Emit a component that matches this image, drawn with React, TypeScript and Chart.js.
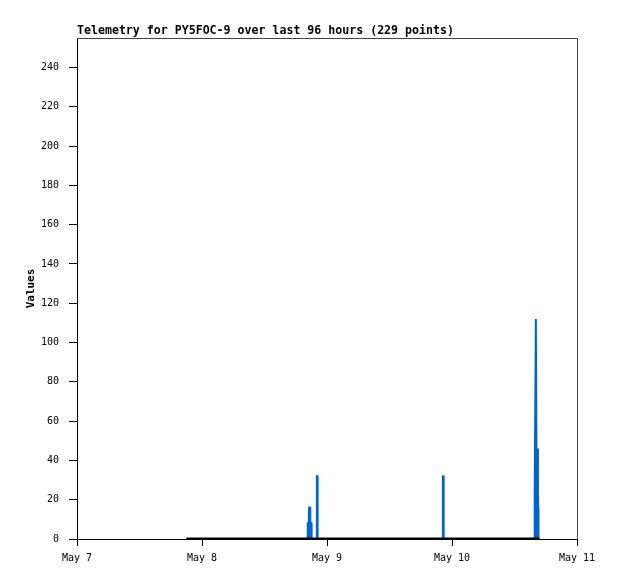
import React, { useEffect, useRef } from "react";
import { Chart, registerables } from "chart.js";

Chart.register(...registerables);

const chartTitle = "Telemetry for PY5FOC-9 over last 96 hours (229 points)";
const yAxisTitle = "Values";
const xTickLabels = ["May 7", "May 8", "May 9", "May 10", "May 11"];
const yMin = 0;
const yMax = 255;

// hours since May 7 00:00
const blueHours = [
  21.0,
  44.25, 44.3, 44.5, 44.55, 44.75, 44.8, 45.0, 45.05,
  46.0, 46.05, 46.15, 46.2,
  70.2, 70.25, 70.35, 70.4,
  87.8, 87.85, 87.9, 88.1, 88.25, 88.4, 88.5, 88.55, 88.6,
  88.8,
];
const blueValues = [
  0,
  0, 8, 8, 16, 16, 8, 8, 0,
  0, 32, 32, 0,
  0, 32, 32, 0,
  0, 16, 24, 112, 24, 46, 24, 16, 0,
  0,
];
const blackHours = [21.0, 88.8];
const blackValues = [0, 0];

const FONT = '"DejaVu Sans Mono", "Liberation Mono", monospace';

const framePlugin = {
  id: "frameAndTitle",
  afterDraw(chart: any) {
    const { ctx, chartArea } = chart;
    ctx.save();
    ctx.strokeStyle = "#444444";
    ctx.lineWidth = 1;
    ctx.beginPath();
    ctx.moveTo(chartArea.left, Math.round(chartArea.top) + 0.5);
    ctx.lineTo(Math.round(chartArea.right) + 0.5, Math.round(chartArea.top) + 0.5);
    ctx.lineTo(Math.round(chartArea.right) + 0.5, chartArea.bottom);
    ctx.stroke();
    ctx.font = "bold 11.6px " + FONT;
    ctx.fillStyle = "#000";
    ctx.textAlign = "left";
    ctx.textBaseline = "middle";
    ctx.fillText(chartTitle, chartArea.left, chartArea.top - 7);
    ctx.restore();
  },
};

export default function App() {
  const ref = useRef<HTMLCanvasElement | null>(null);

  useEffect(() => {
    if (!ref.current) return;
    const chart = new Chart(ref.current, {
      type: "line",
      data: {
        datasets: [
          {
            label: "zero",
            data: blackHours.map((h, i) => ({ x: h, y: blackValues[i] })),
            borderColor: "#000000",
            borderWidth: 3,
            pointRadius: 0,
            tension: 0,
            order: 0,
          },
          {
            label: "values",
            data: blueHours.map((h, i) => ({ x: h, y: blueValues[i] })),
            borderColor: "#0066cc",
            backgroundColor: "#0066cc",
            fill: "origin",
            borderWidth: 2,
            pointRadius: 0,
            tension: 0,
            order: 1,
          },
        ],
      },
      options: {
        animation: false,
        responsive: false,
        maintainAspectRatio: false,
        layout: { padding: { top: 38, left: 0, right: 41, bottom: 0 } },
        plugins: {
          legend: { display: false },
          tooltip: { enabled: false },
          title: { display: false },
        },
        scales: {
          x: {
            type: "linear",
            min: 0,
            max: 96,
            afterFit: (scale: any) => {
              scale.height = 40;
            },
            ticks: {
              stepSize: 24,
              maxRotation: 0,
              autoSkip: false,
              padding: 6,
              color: "#000",
              font: { family: FONT, size: 10 },
              callback: (v: any) => xTickLabels[Math.round(Number(v) / 24)] ?? "",
            },
            grid: {
              drawOnChartArea: false,
              drawTicks: true,
              tickLength: 7,
              color: "#000",
            },
            border: { display: true, color: "#000", width: 1 },
          },
          y: {
            type: "linear",
            min: yMin,
            max: yMax,
            afterFit: (scale: any) => {
              scale.width = 77;
            },
            ticks: {
              stepSize: 20,
              includeBounds: false,
              padding: 10,
              color: "#000",
              font: { family: FONT, size: 10 },
            },
            grid: {
              drawOnChartArea: false,
              drawTicks: true,
              tickLength: 8,
              color: "#000",
            },
            border: { display: true, color: "#000", width: 1 },
            title: {
              display: true,
              text: yAxisTitle,
              color: "#000",
              font: { family: FONT, size: 11, weight: "bold" },
              padding: { top: 25, bottom: 0 },
            },
          },
        },
      },
      plugins: [framePlugin],
    } as any);
    return () => chart.destroy();
  }, []);

  return (
    <div style={{ position: "absolute", left: 0, top: 0, width: 618, height: 579, background: "#fff" }}>
      <canvas ref={ref} width={618} height={579} style={{ width: 618, height: 579, display: "block" }} />
    </div>
  );
}
